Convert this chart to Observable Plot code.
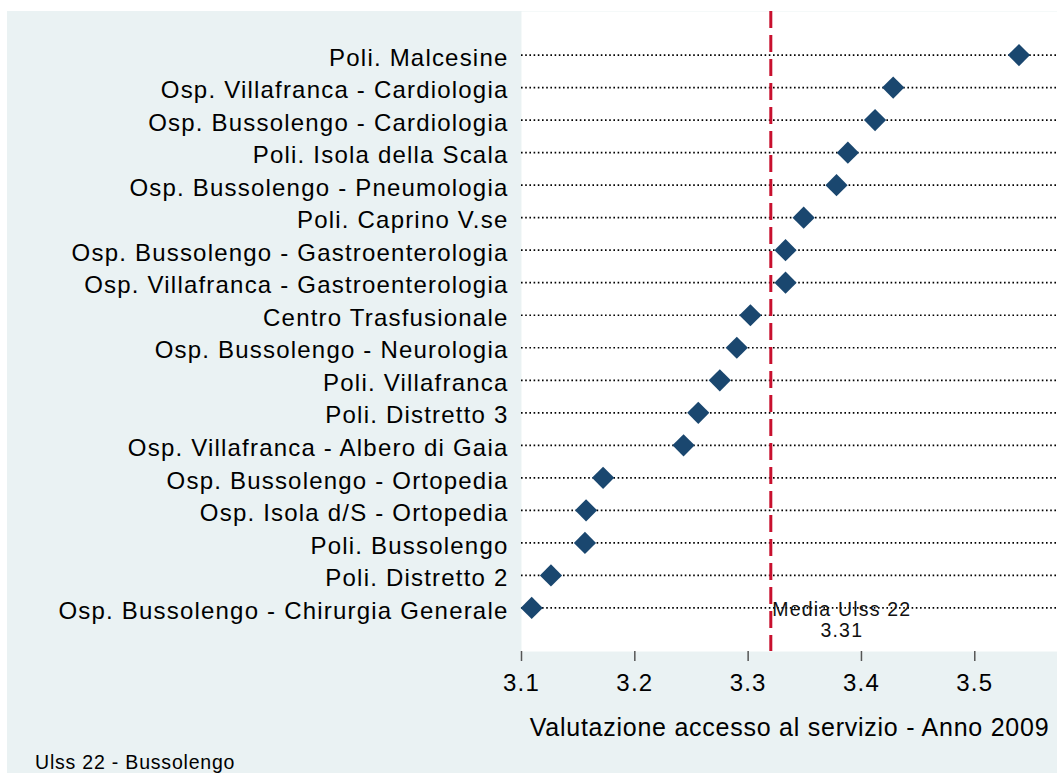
<!DOCTYPE html>
<html>
<head>
<meta charset="utf-8">
<script src="https://cdn.jsdelivr.net/npm/d3@7"></script>
<script src="https://cdn.jsdelivr.net/npm/@observablehq/plot@0.6"></script>
<style>
  html, body { margin: 0; padding: 0; background: #ffffff; }
  #wrap { position: relative; width: 1057px; height: 773px; overflow: hidden; font-family: "Liberation Sans", Arial, sans-serif; }
  #panel { position: absolute; left: 7px; top: 11px; right: 0; bottom: 0; background: #EAF2F3; }
  #chart { position: absolute; left: 0; top: 0; }
  #chart svg text { letter-spacing: 1.2px; }
  #chart svg text.xtitle { letter-spacing: 0.75px; }
  #caption { position: absolute; left: 35px; top: 751px; font-size: 19.5px; line-height: 22px; letter-spacing: 0.8px; color: #000; white-space: nowrap; }
</style>
</head>
<body>
<div id="wrap">
  <div id="panel"></div>
  <div id="chart"></div>
  <div id="caption"></div>
</div>
<script>
// ---- data ----
const names = [
  "Poli. Malcesine",
  "Osp. Villafranca - Cardiologia",
  "Osp. Bussolengo - Cardiologia",
  "Poli. Isola della Scala",
  "Osp. Bussolengo - Pneumologia",
  "Poli. Caprino V.se",
  "Osp. Bussolengo - Gastroenterologia",
  "Osp. Villafranca - Gastroenterologia",
  "Centro Trasfusionale",
  "Osp. Bussolengo - Neurologia",
  "Poli. Villafranca",
  "Poli. Distretto 3",
  "Osp. Villafranca - Albero di Gaia",
  "Osp. Bussolengo - Ortopedia",
  "Osp. Isola d/S - Ortopedia",
  "Poli. Bussolengo",
  "Poli. Distretto 2",
  "Osp. Bussolengo - Chirurgia Generale"
];
const values = [
  3.539, 3.428, 3.412, 3.388, 3.378, 3.349, 3.333, 3.333, 3.302,
  3.290, 3.275, 3.256, 3.243, 3.172, 3.157, 3.156, 3.126, 3.109
];
const xTicks = [3.1, 3.2, 3.3, 3.4, 3.5];
const meanValue = 3.32;
const meanLabel = ["Media Ulss 22", "3.31"];
const xTitle = "Valutazione accesso al servizio - Anno 2009";
const footer = "Ulss 22 - Bussolengo";

// ---- build ----
const data = names.map((name, i) => ({name, value: values[i]}));

const navy = "#1a476f";
const red = "#c8102e";

const chart = Plot.plot({
  width: 1057,
  height: 748,
  marginTop: 11,
  marginLeft: 521,
  marginRight: 0,
  marginBottom: 97,
  style: { background: "transparent", fontFamily: "'Liberation Sans', Arial, sans-serif", color: "#000", overflow: "hidden" },
  x: { domain: [3.1, 3.573], axis: null },
  y: { type: "point", domain: names, padding: 1.34, round: false, axis: null },
  marks: [
    Plot.frame({ fill: "white", stroke: null }),
    Plot.ruleY(names, { y: d => d, stroke: "#000", strokeWidth: 1.7, strokeDasharray: "1.6,2.6" }),
    Plot.ruleX([meanValue], { x: d => d, stroke: red, strokeWidth: 3, strokeDasharray: "17,7" }),
    Plot.dot(data, { x: "value", y: "name", symbol: "diamond2", r: 10, fill: navy, stroke: null }),
    Plot.text([meanLabel.join("\n")], {
      x: () => meanValue, y: () => names[names.length - 1], text: d => d,
      dx: 71, dy: 12, fontSize: 19.5, lineHeight: 1.08, textAnchor: "middle", fill: "#111"
    }),
    Plot.axisX({
      ticks: xTicks, tickFormat: d3.format(".1f"), tickSize: 10, tickPadding: 12,
      fontSize: 24, stroke: "#555", fill: "#000", line: true, label: null, strokeWidth: 1.5
    }),
    Plot.axisY({
      tickSize: 0, tickPadding: 13, fontSize: 24, stroke: "#555", fill: "#000",
      line: true, label: null, strokeWidth: 2, dy: 3
    }),
    Plot.text([xTitle], {
      text: d => d, frameAnchor: "bottom", dy: 76, dx: 0, fontSize: 25, fill: "#000", lineAnchor: "middle"
    })
  ]
});

document.getElementById("chart").appendChild(chart);
// tag the axis title for its own letter spacing
chart.querySelectorAll("text").forEach(t => { if (t.textContent === xTitle) t.classList.add("xtitle"); });
document.getElementById("caption").textContent = footer;
</script>
</body>
</html>
